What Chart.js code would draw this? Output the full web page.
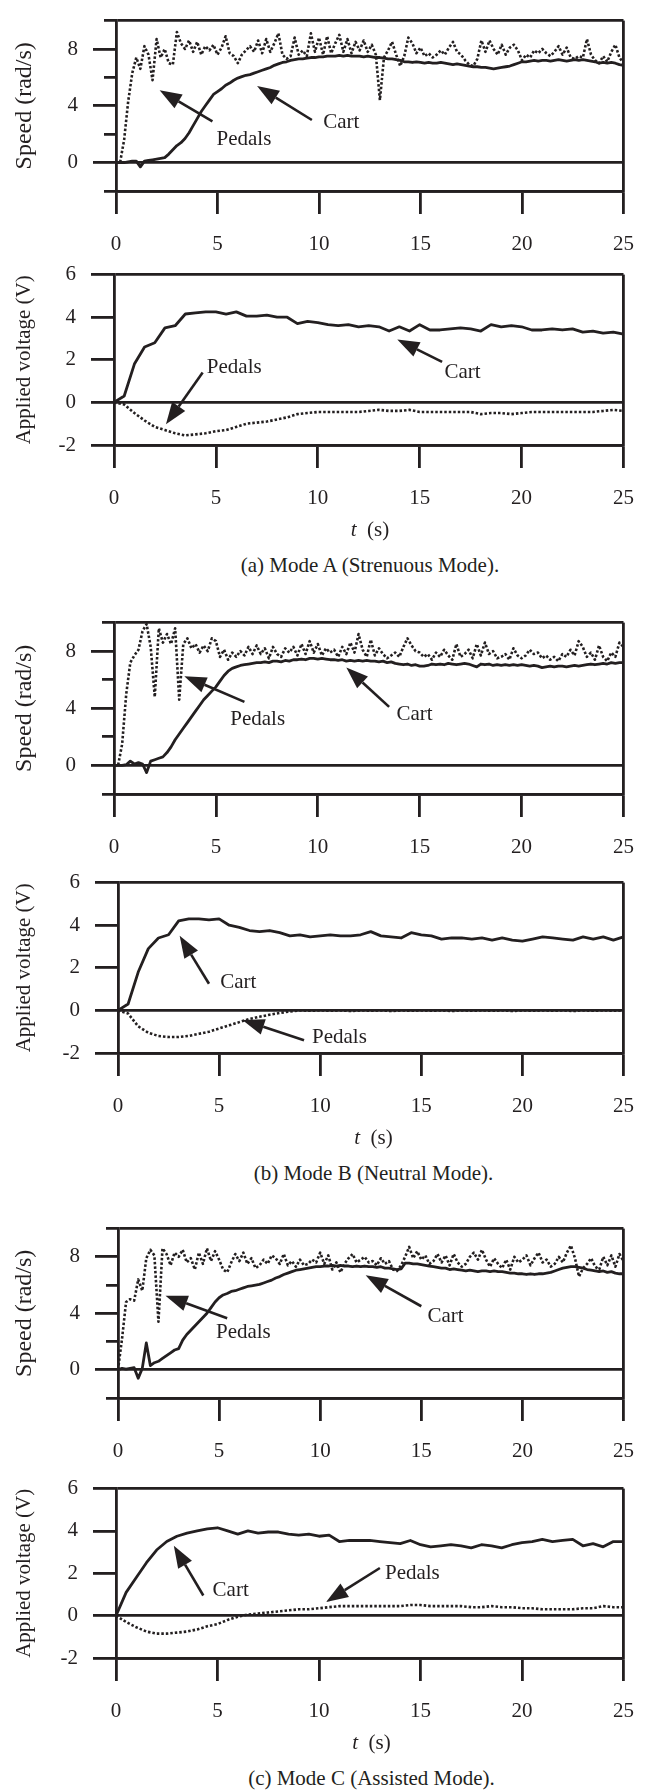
<!DOCTYPE html>
<html>
<head>
<meta charset="utf-8">
<script src="https://cdn.jsdelivr.net/npm/chart.js@4.4.1/dist/chart.umd.min.js"></script>
<style>
  body { margin: 0; background: #fff; }
  #page { position: relative; width: 652px; height: 1791px; overflow: hidden; background: #fff;
          font-family: 'Liberation Serif', 'DejaVu Serif', serif; color: #231f20; }
  #page canvas { position: absolute; left: 0; }
  .note { position: absolute; text-align: center; font-size: 21px; line-height: 24px; white-space: nowrap; }
</style>
</head>
<body>
<div id="page"></div>
<script>
'use strict';

// *Data*, t in seconds
// speeds sampled every 0.2 s, voltages every 0.5 s (0 ... 25)
const speedStep = 0.2;
const voltStep = 0.5;
const tSpeed = makeTimes(speedStep);
const tVolt = makeTimes(voltStep);

const xTickValues = [0, 5, 10, 15, 20, 25];
const speedTickValues = [-2, 0, 2, 4, 6, 8, 10];
const speedLabelValues = [0, 4, 8];
const voltTickValues = [-2, 0, 2, 4, 6];

// Mode A
const cartSpeedA = [
  0, 0, 0, 0.05, 0.1, 0.1, -0.3, 0.1, 0.15, 0.2,
  0.25, 0.3, 0.35, 0.6, 0.9, 1.2, 1.4, 1.7, 2.1, 2.6,
  3.1, 3.6, 4.0, 4.4, 4.8, 5.0, 5.2, 5.45, 5.6, 5.8,
  5.95, 6.05, 6.15, 6.2, 6.3, 6.4, 6.5, 6.6, 6.7, 6.85,
  6.95, 7.05, 7.1, 7.2, 7.25, 7.3, 7.3, 7.35, 7.4, 7.4,
  7.45, 7.45, 7.5, 7.5, 7.5, 7.55, 7.5, 7.55, 7.5, 7.5,
  7.5, 7.45, 7.5, 7.45, 7.4, 7.4, 7.35, 7.3, 7.3, 7.25,
  7.2, 7.1, 7.1, 7.05, 7.1, 7.05, 7.0, 7.05, 7.0, 7.0,
  7.05, 7.0, 6.95, 6.9, 6.95, 6.9, 6.85, 6.8, 6.75, 6.75,
  6.7, 6.7, 6.65, 6.6, 6.65, 6.7, 6.75, 6.8, 6.9, 7.0,
  7.1, 7.1, 7.15, 7.2, 7.15, 7.2, 7.2, 7.15, 7.2, 7.25,
  7.2, 7.15, 7.2, 7.25, 7.2, 7.25, 7.2, 7.15, 7.1, 7.0,
  7.05, 7.0, 7.05, 7.0, 6.9, 6.85
];
const pedalSpeedA = [
  0, 0, 1.6, 4.3, 6.3, 7.4, 6.6, 8.2, 7.6, 5.8,
  8.7, 7.4, 8.0, 7.0, 6.9, 9.2, 8.4, 8.0, 8.6, 7.8,
  8.5, 7.6, 8.2, 7.9, 8.3, 7.6, 8.1, 8.9, 7.7, 7.5,
  7.0, 7.6, 7.9, 8.2, 7.8, 8.6, 7.7, 8.7, 7.8, 8.4,
  9.1, 7.6, 7.3, 7.5, 8.8, 7.6, 7.9, 7.5, 9.1, 7.8,
  8.8, 7.6, 8.9, 7.7, 8.4, 9.0, 7.8, 8.7, 7.7, 8.5,
  7.9, 8.6, 7.8, 8.3, 7.6, 4.4, 7.4, 7.9, 8.5, 7.6,
  6.8, 7.5, 8.8, 8.4, 7.7, 8.1, 7.5, 7.7, 7.4, 7.6,
  7.9, 7.6, 8.1, 8.5, 7.8, 7.6, 7.2, 6.9, 6.8, 7.3,
  8.6, 7.8, 8.6, 8.0, 7.6, 8.3, 7.6, 8.1, 8.3, 7.9,
  7.2, 7.6, 7.4, 7.9, 7.7, 8.0, 7.7, 7.5, 7.8, 8.2,
  7.6, 8.1, 7.4, 7.3, 7.5, 7.4, 8.7, 7.6, 7.2, 7.0,
  7.5, 7.1, 7.8, 8.3, 7.4, 7.0
];
const cartVoltA = [
  0, 0.3, 1.8, 2.6, 2.8, 3.5, 3.6, 4.15, 4.2, 4.25,
  4.25, 4.15, 4.25, 4.05, 4.05, 4.1, 4.0, 4.0, 3.7, 3.8,
  3.75, 3.65, 3.6, 3.65, 3.55, 3.6, 3.55, 3.35, 3.55, 3.35,
  3.65, 3.4, 3.4, 3.45, 3.5, 3.45, 3.35, 3.65, 3.55, 3.6,
  3.55, 3.4, 3.4, 3.45, 3.4, 3.45, 3.3, 3.35, 3.25, 3.3,
  3.2
];
const pedalVoltA = [
  0, -0.1, -0.5, -0.85, -1.15, -1.3, -1.45, -1.55, -1.5, -1.45,
  -1.35, -1.3, -1.15, -1.0, -0.95, -0.9, -0.8, -0.7, -0.55, -0.5,
  -0.45, -0.45, -0.45, -0.45, -0.45, -0.4, -0.35, -0.4, -0.4, -0.35,
  -0.45, -0.45, -0.45, -0.45, -0.45, -0.45, -0.55, -0.5, -0.5, -0.55,
  -0.5, -0.45, -0.45, -0.45, -0.45, -0.45, -0.45, -0.45, -0.4, -0.35,
  -0.4
];

// Mode B
const cartSpeedB = [
  0, 0, 0, 0.05, 0.3, 0.1, 0.2, 0.1, -0.5, 0.3,
  0.4, 0.5, 0.6, 0.9, 1.3, 1.8, 2.2, 2.6, 3.0, 3.4,
  3.8, 4.2, 4.6, 4.9, 5.2, 5.5, 5.9, 6.3, 6.6, 6.8,
  6.9, 7.0, 7.05, 7.1, 7.15, 7.2, 7.2, 7.25, 7.2, 7.3,
  7.3, 7.25, 7.35, 7.3, 7.4, 7.4, 7.45, 7.4, 7.5, 7.5,
  7.45, 7.5, 7.45, 7.4, 7.4, 7.35, 7.4, 7.3, 7.35, 7.3,
  7.35, 7.3, 7.35, 7.3, 7.3, 7.25, 7.3, 7.2, 7.25, 7.15,
  7.1, 7.05, 7.1, 7.0, 7.05, 6.95, 6.95, 7.0, 7.1, 7.05,
  7.1, 7.05, 7.15, 7.1, 7.05, 7.1, 7.15, 7.1, 7.0, 6.9,
  7.1, 7.05, 7.1, 7.0, 7.05, 7.0, 7.05, 7.0, 7.05, 7.0,
  7.05, 7.0, 6.95, 7.0, 6.95, 6.85, 6.9, 6.95, 6.9, 6.95,
  6.95, 6.9, 6.95, 7.0, 6.95, 7.0, 7.05, 7.1, 7.05, 7.1,
  7.15, 7.1, 7.2, 7.15, 7.2, 7.2
];
const pedalSpeedB = [
  0, 0, 1.5, 5.0, 7.2, 7.7, 8.1, 9.4, 9.9, 8.3,
  4.8, 9.6, 8.6, 9.2, 8.5, 9.6, 4.6, 8.5, 8.9, 8.2,
  8.5, 7.9, 8.4, 8.0, 8.9, 8.7, 7.6, 8.1, 7.4, 7.9,
  7.6, 8.0, 7.7, 8.3, 7.8, 8.4, 7.8, 8.2, 7.5, 8.3,
  7.8, 7.6, 8.2, 7.9, 8.3, 7.7, 8.5, 7.8, 8.7, 7.9,
  8.5, 7.7, 8.2, 7.9, 8.1, 7.6, 8.3, 7.8, 8.6, 7.9,
  9.2, 8.1, 7.6, 8.8, 7.7, 8.2, 7.8, 7.5, 7.7, 7.9,
  7.6, 8.3, 8.9, 8.4, 8.0, 7.9, 7.6, 7.8, 7.4, 7.9,
  7.6, 8.1, 7.7, 7.4, 8.5, 7.6, 7.8, 8.1, 7.5, 8.5,
  7.7, 8.6, 7.8, 8.0, 7.5, 7.6, 7.8, 7.4, 8.2, 7.7,
  7.5, 7.7, 8.1, 7.8, 7.9, 7.5, 7.7, 7.4, 7.6, 7.3,
  7.8, 7.6, 8.1, 7.7, 8.7, 8.3, 7.6, 7.9, 7.4, 8.4,
  7.6, 7.3, 7.9, 7.6, 8.6, 8.3
];
const cartVoltB = [
  0, 0.3, 1.8, 2.9, 3.4, 3.55, 4.2, 4.3, 4.3, 4.25,
  4.3, 4.0, 3.9, 3.75, 3.7, 3.75, 3.65, 3.5, 3.55, 3.45,
  3.5, 3.55, 3.5, 3.5, 3.55, 3.7, 3.5, 3.45, 3.4, 3.65,
  3.55, 3.5, 3.35, 3.4, 3.4, 3.35, 3.4, 3.3, 3.4, 3.3,
  3.25, 3.35, 3.45, 3.4, 3.35, 3.3, 3.45, 3.35, 3.45, 3.3,
  3.45
];
const pedalVoltB = [
  0, -0.15, -0.75, -1.05, -1.2, -1.25, -1.25, -1.2, -1.1, -1.0,
  -0.85, -0.7, -0.55, -0.4, -0.3, -0.2, -0.12, -0.05, 0, -0.02,
  0, -0.02, 0, -0.03, 0, -0.02, 0, -0.03, 0, -0.02,
  0, -0.02, 0, -0.03, 0, -0.02, 0, -0.02, 0, -0.03,
  0, -0.02, 0, -0.02, 0, -0.03, 0, -0.02, 0, -0.02,
  0
];

// Mode C
const cartSpeedC = [
  0, 0.1, 0.05, 0.1, 0.15, -0.6, 0.1, 1.9, 0.3, 0.5,
  0.6, 0.8, 1.0, 1.2, 1.4, 1.5, 2.1, 2.5, 2.8, 3.1,
  3.4, 3.7, 4.0, 4.4, 4.8, 5.1, 5.3, 5.4, 5.55, 5.6,
  5.7, 5.8, 5.9, 5.95, 6.0, 6.05, 6.15, 6.25, 6.35, 6.5,
  6.6, 6.75, 6.85, 6.95, 7.05, 7.1, 7.15, 7.2, 7.25, 7.3,
  7.3, 7.35, 7.35, 7.4, 7.35, 7.4, 7.35, 7.35, 7.3, 7.35,
  7.3, 7.35, 7.3, 7.3, 7.25, 7.3, 7.2, 7.2, 7.15, 7.1,
  7.15, 7.55, 7.55, 7.5, 7.5, 7.45, 7.4, 7.35, 7.3, 7.25,
  7.2, 7.2, 7.1, 7.15, 7.1, 7.05, 7.0, 7.05, 7.0, 6.95,
  7.0, 7.0, 6.95, 7.0, 6.95, 6.95, 6.9, 6.85, 6.85, 6.8,
  6.8, 6.75, 6.8, 6.75, 6.8, 6.8, 6.85, 6.9, 7.0, 7.1,
  7.2, 7.25, 7.3, 7.3, 7.25, 7.2, 7.1, 7.05, 7.0, 6.95,
  7.0, 6.9, 6.95, 6.85, 6.8, 6.8
];
const pedalSpeedC = [
  0, 2.2, 4.8, 5.0, 4.9, 6.4, 5.6, 7.9, 8.5, 8.1,
  3.4, 8.6, 8.2, 7.4, 8.3, 8.0, 8.5, 7.6, 7.9, 7.1,
  8.3, 7.5, 8.6, 7.7, 8.4, 7.8, 7.1, 6.9, 7.6, 8.2,
  7.7, 8.3, 7.5, 7.9, 7.2, 7.4, 7.8, 7.5, 8.1, 7.9,
  7.5, 8.2, 7.4, 7.7, 7.3, 7.8, 7.4, 7.5, 7.8, 7.6,
  8.3, 7.5, 8.1, 7.1, 7.6, 6.9, 7.5, 7.9, 8.2, 7.6,
  7.8, 8.0, 7.6, 7.7, 7.4, 7.9, 7.5, 7.7, 7.1, 7.0,
  7.4, 8.0, 8.7, 7.9, 8.4, 7.8, 8.1, 7.5, 7.7, 8.2,
  7.6, 8.1, 7.4, 8.2, 7.6, 7.3, 7.5, 8.0, 8.3, 7.8,
  8.5, 7.8, 7.3, 7.9, 7.5, 7.2, 7.8, 7.1, 8.0, 7.6,
  7.8, 8.1, 7.4, 7.9, 8.3, 7.6, 7.8, 7.3, 7.5, 8.0,
  7.6, 8.3, 8.8, 7.9, 6.6, 7.2, 7.5, 7.9, 7.3, 7.1,
  8.0, 7.4, 8.1, 7.3, 8.2, 7.7
];
const cartVoltC = [
  0, 1.1, 1.8, 2.5, 3.1, 3.5, 3.75, 3.9, 4.0, 4.1,
  4.15, 4.0, 3.85, 4.0, 3.9, 3.95, 3.95, 3.85, 3.8, 3.85,
  3.75, 3.8, 3.5, 3.55, 3.55, 3.55, 3.5, 3.45, 3.4, 3.55,
  3.35, 3.25, 3.3, 3.35, 3.3, 3.2, 3.35, 3.3, 3.2, 3.35,
  3.45, 3.5, 3.6, 3.5, 3.55, 3.6, 3.3, 3.4, 3.25, 3.5,
  3.5
];
const pedalVoltC = [
  0, -0.3, -0.55, -0.75, -0.85, -0.85, -0.8, -0.75, -0.65, -0.5,
  -0.4, -0.2, -0.05, 0.05, 0.1, 0.15, 0.2, 0.25, 0.3, 0.3,
  0.35, 0.4, 0.45, 0.45, 0.45, 0.45, 0.45, 0.45, 0.45, 0.5,
  0.5, 0.45, 0.45, 0.45, 0.45, 0.4, 0.4, 0.45, 0.4, 0.4,
  0.35, 0.35, 0.3, 0.3, 0.3, 0.3, 0.35, 0.35, 0.45, 0.4,
  0.4
];

// *Annotations* - arrows [tailT, tailV, headT, headV] and labels [text, t, v]
const notesSpeedA = {
  arrows: [[4.75, 2.9, 2.15, 5.1], [9.65, 3.0, 6.95, 5.4]],
  labels: [['Pedals', 6.3, 1.65], ['Cart', 11.1, 2.8]]
};
const notesVoltA = {
  arrows: [[4.35, 1.4, 2.55, -1.03], [16.1, 1.9, 13.9, 2.95]],
  labels: [['Pedals', 5.9, 1.65], ['Cart', 17.1, 1.4]]
};
const notesSpeedB = {
  arrows: [[6.4, 4.45, 3.45, 6.25], [13.5, 4.1, 11.4, 6.85]],
  labels: [['Pedals', 7.05, 3.2], ['Cart', 14.75, 3.6]]
};
const notesVoltB = {
  arrows: [[4.5, 1.25, 3.05, 3.5], [9.2, -1.4, 6.15, -0.45]],
  labels: [['Cart', 5.95, 1.3], ['Pedals', 10.95, -1.25]]
};
const notesSpeedC = {
  arrows: [[5.4, 3.65, 2.35, 5.25], [15.0, 4.5, 12.25, 6.7]],
  labels: [['Pedals', 6.2, 2.65], ['Cart', 16.2, 3.8]]
};
const notesVoltC = {
  arrows: [[4.3, 0.95, 2.85, 3.3], [13.0, 2.25, 10.35, 0.65]],
  labels: [['Cart', 5.65, 1.2], ['Pedals', 14.6, 2.0]]
};

const captions = ['(a) Mode A (Strenuous Mode).', '(b) Mode B (Neutral Mode).', '(c) Mode C (Assisted Mode).'];

// *Layout* - pixel box of each plot (top = max value, bottom = -2 line)
const ink = '#231f20';
const serif = 'Liberation Serif';
const panels = [
  { kind: 'speed', top: 9, bottom: 191, left: 116, right: 628, cart: cartSpeedA, pedals: pedalSpeedA, notes: notesSpeedA },
  { kind: 'volt', top: 263, bottom: 445, left: 114, right: 626, cart: cartVoltA, pedals: pedalVoltA, notes: notesVoltA, caption: 0 },
  { kind: 'speed', top: 611, bottom: 794, left: 114, right: 627, cart: cartSpeedB, pedals: pedalSpeedB, notes: notesSpeedB },
  { kind: 'volt', top: 871, bottom: 1053, left: 118, right: 629, cart: cartVoltB, pedals: pedalVoltB, notes: notesVoltB, caption: 1 },
  { kind: 'speed', top: 1217, bottom: 1398, left: 118, right: 630, cart: cartSpeedC, pedals: pedalSpeedC, notes: notesSpeedC },
  { kind: 'volt', top: 1477, bottom: 1658, left: 116, right: 627, cart: cartVoltC, pedals: pedalVoltC, notes: notesVoltC, caption: 2 }
];

const page = document.getElementById('page');

// *Helper Functions*

function makeTimes(step) {
  let out = [];
  let n = Math.round(25 / step);
  for (let i = 0; i <= n; i++) {
    out.push(Math.round(i * step * 100) / 100);
  }
  return out;
}

function pair(ts, vs) {
  return vs.map((v, i) => ({ x: ts[i], y: v }));
}

function makeNotes(notes) {
  return {
    id: 'notes',
    afterDatasetsDraw(chart) {
      const ctx = chart.ctx;
      const sx = chart.scales.x;
      const sy = chart.scales.y;
      ctx.save();
      ctx.strokeStyle = ink;
      ctx.fillStyle = ink;
      ctx.lineWidth = 2.6;
      notes.arrows.forEach(([t0, v0, t1, v1]) => {
        let x0 = sx.getPixelForValue(t0), y0 = sy.getPixelForValue(v0);
        let x1 = sx.getPixelForValue(t1), y1 = sy.getPixelForValue(v1);
        let ang = Math.atan2(y1 - y0, x1 - x0);
        let headLen = 22, headW = 8;
        let bx = x1 - headLen * Math.cos(ang), by = y1 - headLen * Math.sin(ang);
        ctx.beginPath();
        ctx.moveTo(x0, y0);
        ctx.lineTo(bx, by);
        ctx.stroke();
        ctx.beginPath();
        ctx.moveTo(x1, y1);
        ctx.lineTo(bx + headW * Math.sin(ang), by - headW * Math.cos(ang));
        ctx.lineTo(bx - headW * Math.sin(ang), by + headW * Math.cos(ang));
        ctx.closePath();
        ctx.fill();
      });
      ctx.font = '21px "' + serif + '"';
      ctx.textAlign = 'center';
      ctx.textBaseline = 'middle';
      notes.labels.forEach(([txt, t, v]) => {
        ctx.fillText(txt, sx.getPixelForValue(t), sy.getPixelForValue(v));
      });
      ctx.restore();
    }
  };
}

function addText(html, left, width, centerY) {
  let div = document.createElement('div');
  div.className = 'note';
  div.style.left = left + 'px';
  div.style.width = width + 'px';
  div.style.top = (centerY - 12) + 'px';
  div.innerHTML = html;
  page.appendChild(div);
}

function renderPanel(p) {
  const isSpeed = p.kind === 'speed';
  const yTicks = isSpeed ? speedTickValues : voltTickValues;
  const yMin = yTicks[0];
  const yMax = yTicks[yTicks.length - 1];
  const ts = isSpeed ? tSpeed : tVolt;
  const padTop = 16;
  const axisH = 72;
  const axisW = 2.8;
  const font = { family: '"' + serif + '", serif', size: 21 };
  // the speed plots were stretched vertically in the source, so their title runs longer
  const titleFont = { family: '"' + serif + '", serif', size: isSpeed ? 24 : 21 };

  let canvas = document.createElement('canvas');
  canvas.width = 652;
  canvas.height = padTop + (p.bottom - p.top) + axisH;
  canvas.style.top = (p.top - padTop) + 'px';
  page.appendChild(canvas);

  new Chart(canvas, {
    type: 'line',
    data: {
      datasets: [
        { label: 'Cart', data: pair(ts, p.cart), borderColor: ink, borderWidth: 2.8 },
        { label: 'Pedals', data: pair(ts, p.pedals), borderColor: ink, borderWidth: 2.6, borderDash: [2.5, 2] }
      ]
    },
    options: {
      responsive: false,
      animation: false,
      devicePixelRatio: 1,
      layout: { padding: { top: padTop, right: 652 - p.right, bottom: 0, left: 0 } },
      elements: { point: { radius: 0 }, line: { tension: 0, borderJoinStyle: 'round' } },
      plugins: { legend: { display: false }, tooltip: { enabled: false } },
      scales: {
        x: {
          type: 'linear',
          min: 0,
          max: 25,
          afterBuildTicks: s => { s.ticks = xTickValues.map(v => ({ value: v })); },
          afterFit: s => { s.height = axisH; },
          grid: {
            color: c => (c.tick && c.tick.value === 25) ? ink : 'rgba(0,0,0,0)',
            lineWidth: axisW,
            tickLength: 23,
            tickColor: ink,
            tickWidth: axisW
          },
          border: { display: true, color: ink, width: axisW },
          ticks: { color: ink, font: font, padding: 18, maxRotation: 0, autoSkip: false }
        },
        y: {
          min: yMin,
          max: yMax,
          afterBuildTicks: s => { s.ticks = yTicks.map(v => ({ value: v })); },
          afterFit: s => { s.width = p.left; },
          grid: {
            color: c => (c.tick && [yMin, 0, yMax].includes(c.tick.value)) ? ink : 'rgba(0,0,0,0)',
            lineWidth: axisW,
            tickLength: 23,
            tickColor: ink,
            tickWidth: axisW,
            // unlabelled ticks are short: hide the outer part of the tick
            tickBorderDash: c => (isSpeed && c.tick && !speedLabelValues.includes(c.tick.value)) ? [0, 11, 12, 0] : []
          },
          border: { display: true, color: ink, width: axisW },
          ticks: {
            color: ink,
            font: font,
            padding: 15,
            autoSkip: false,
            callback: v => (!isSpeed || speedLabelValues.includes(v)) ? String(v) : ''
          },
          title: {
            display: true,
            text: isSpeed ? 'Speed (rad/s)' : 'Applied voltage (V)',
            color: ink,
            font: titleFont,
            padding: { top: isSpeed ? 10 : 12, bottom: 0 }
          }
        }
      }
    },
    plugins: [makeNotes(p.notes)]
  });

  if (p.caption !== undefined) {
    addText('<i>t</i>&nbsp; (s)', p.left, p.right - p.left, p.bottom + 84);
    addText(captions[p.caption], p.left - 20, p.right - p.left + 40, p.bottom + 120);
  }
}

// canvas text needs the serif face ready before drawing
document.fonts.load('21px "' + serif + '"').then(
  () => panels.forEach(renderPanel),
  () => panels.forEach(renderPanel)
);
</script>
</body>
</html>
